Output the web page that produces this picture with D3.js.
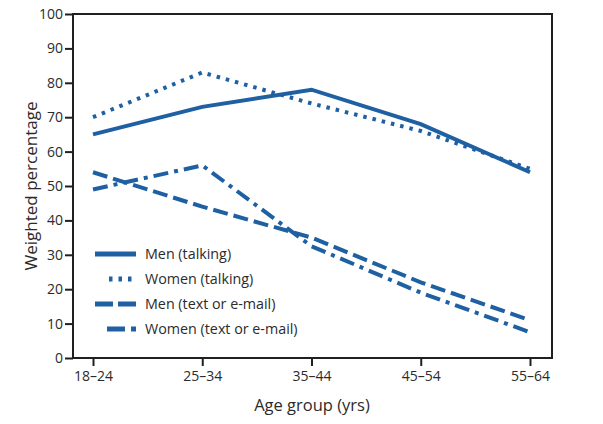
<!DOCTYPE html>
<html>
<head>
<meta charset="utf-8">
<script src="https://cdn.jsdelivr.net/npm/d3@7"></script>
<style>
  body { margin: 0; background: #fff; }
  text { font-family: "Open Sans", sans-serif; fill: #2b2b2b; }
</style>
</head>
<body>
<svg id="chart" width="603" height="424"></svg>
<script>
const ageGroups = ['18–24', '25–34', '35–44', '45–54', '55–64'];
const menTalking   = [65, 73, 78, 68, 54];
const womenTalking = [70, 83, 74, 66, 55];
const menText      = [54, 44, 35, 22, 11];
const womenText    = [49, 56, 32.5, 19, 7.5];
const yTicks = [0, 10, 20, 30, 40, 50, 60, 70, 80, 90, 100];

const series = [
  {name: 'Men (talking)', values: menTalking, dash: null},
  {name: 'Women (talking)', values: womenTalking, dash: '3.5,6'},
  {name: 'Men (text or e-mail)', values: menText, dash: '15,6'},
  {name: 'Women (text or e-mail)', values: womenText, dash: '15,6,4,6'}
];

const color = '#1f60a2';
const L = 73, R = 552, T = 14, B = 358;
const svg = d3.select('#chart');

const x = d3.scalePoint().domain(ageGroups).range([93, 530]);
const y = d3.scaleLinear().domain([0, 100]).range([B, T]);

// frame
svg.append('rect').attr('x', L).attr('y', T).attr('width', R - L).attr('height', B - T)
  .attr('fill', 'none').attr('stroke', '#231f20').attr('stroke-width', 2);

const yAxis = svg.append('g').attr('transform', `translate(${L},0)`)
  .call(d3.axisLeft(y).tickValues(yTicks).tickSize(8).tickPadding(2));
const xAxis = svg.append('g').attr('transform', `translate(0,${B})`)
  .call(d3.axisBottom(x).tickSize(8).tickPadding(5));
[yAxis, xAxis].forEach(a => {
  a.select('.domain').remove();
  a.selectAll('line').attr('stroke', '#231f20').attr('stroke-width', 2);
  a.selectAll('text').style('font-size', '14px').attr('fill', '#2b2b2b');
});

const line = d3.line().x((d, i) => x(ageGroups[i])).y(d => y(d));
series.forEach(s => {
  svg.append('path').datum(s.values)
    .attr('d', line).attr('fill', 'none').attr('stroke', color)
    .attr('stroke-width', 4)
    .attr('stroke-dasharray', s.dash);
});

// legend
const legend = svg.append('g');
const legendStart = [95, 109, 95, 107];
series.forEach((s, i) => {
  const yy = 254 + i * 25;
  legend.append('line').attr('x1', legendStart[i]).attr('x2', 136)
    .attr('y1', yy).attr('y2', yy).attr('stroke', color).attr('stroke-width', 5)
    .attr('stroke-dasharray', i === 2 ? '18,5' : i === 3 ? '18,6,5,6' : s.dash);
  legend.append('text').attr('x', 145).attr('y', yy + 5)
    .style('font-size', '14.3px').text(s.name);
});

svg.append('text').attr('x', 312).attr('y', 411).attr('text-anchor', 'middle')
  .style('font-size', '16.5px').text('Age group (yrs)');
svg.append('text').attr('transform', 'translate(37,186) rotate(-90)')
  .attr('text-anchor', 'middle').style('font-size', '17px').text('Weighted percentage');
</script>
</body>
</html>
